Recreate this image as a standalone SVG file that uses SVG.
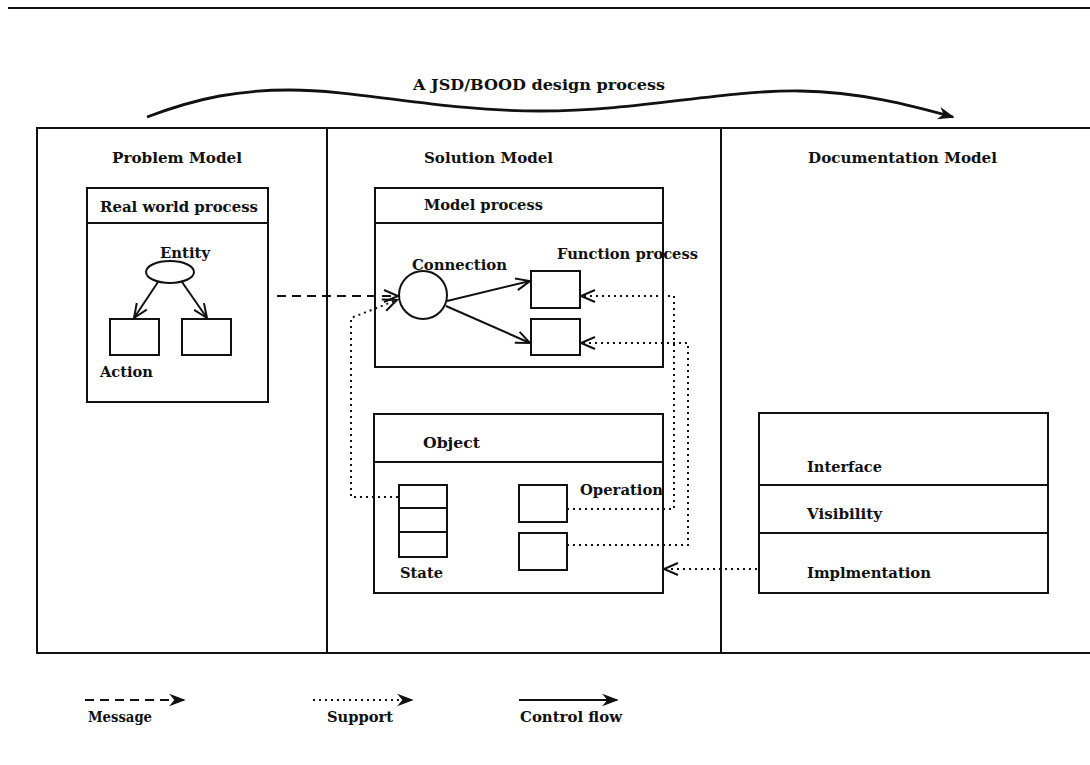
<svg xmlns="http://www.w3.org/2000/svg" width="1090" height="765" viewBox="0 0 1090 765">
<style>
text{font-family:"DejaVu Serif","Liberation Serif",serif;font-size:14px;font-weight:bold;fill:#111;}
.box{fill:none;stroke:#111;stroke-width:2;}
.frame{fill:none;stroke:#111;stroke-width:2;}
.solid{fill:none;stroke:#111;stroke-width:2;}
.arc{fill:none;stroke:#111;stroke-width:2.8;}
.dash{fill:none;stroke:#111;stroke-width:2.2;stroke-dasharray:9,6;}
.dot{fill:none;stroke:#111;stroke-width:2;stroke-dasharray:2,4;}
</style>
<defs>
<marker id="ah" markerUnits="userSpaceOnUse" markerWidth="20" markerHeight="16" refX="14" refY="6" orient="auto" overflow="visible">
<path d="M1,1 L14,6 L1,11 L5,6 Z" fill="#111" stroke="#111" stroke-width="1.2" stroke-dasharray="none" stroke-linejoin="miter"/>
</marker>
<marker id="ao" markerUnits="userSpaceOnUse" markerWidth="20" markerHeight="16" refX="14" refY="6" orient="auto" overflow="visible">
<path d="M0,0 L14,6 L0,12" fill="none" stroke="#111" stroke-width="2" stroke-dasharray="none"/>
</marker>
</defs>
<rect width="1090" height="765" fill="#fff"/>

<g id="frame">
<line x1="8" y1="8" x2="1090" y2="8" stroke="#111" stroke-width="2"/>
<path class="frame" d="M1090,128 H37 V653 H1090"/>
<line x1="327" y1="128" x2="327" y2="653" stroke="#111" stroke-width="2"/>
<line x1="721" y1="128" x2="721" y2="653" stroke="#111" stroke-width="2"/>
</g>

<g id="process-arc">
<path class="arc" d="M147,117 C200,97 240,90 290,90 C360,90 440,111 540,111 C640,111 720,90 800,91 C860,92 910,105 953,117" marker-end="url(#ah)"/>
<text x="413" y="90" textLength="252" lengthAdjust="spacingAndGlyphs">A JSD/BOOD design process</text>
</g>

<g id="titles">
<text x="112" y="163" textLength="130" lengthAdjust="spacingAndGlyphs">Problem Model</text>
<text x="424" y="163" textLength="129" lengthAdjust="spacingAndGlyphs">Solution Model</text>
<text x="808" y="163" textLength="189" lengthAdjust="spacingAndGlyphs">Documentation Model</text>
</g>

<g id="real-world-process">
<rect class="box" x="87" y="188" width="181" height="214"/>
<line x1="87" y1="223" x2="268" y2="223" stroke="#111" stroke-width="2"/>
<text x="100" y="212" textLength="158" lengthAdjust="spacingAndGlyphs">Real world process</text>
</g>
<g id="entity">
<ellipse class="box" cx="170" cy="272" rx="24" ry="11"/>
<text x="160" y="258" textLength="50" lengthAdjust="spacingAndGlyphs">Entity</text>
</g>
<g id="action1"><rect class="box" x="110" y="319" width="49" height="36"/></g>
<g id="action2"><rect class="box" x="182" y="319" width="49" height="36"/></g>
<text x="100" y="377" textLength="53" lengthAdjust="spacingAndGlyphs">Action</text>

<g id="model-process">
<rect class="box" x="375" y="188" width="288" height="179"/>
<line x1="375" y1="223" x2="663" y2="223" stroke="#111" stroke-width="2"/>
<text x="424" y="210" textLength="119" lengthAdjust="spacingAndGlyphs">Model process</text>
</g>
<g id="connection">
<circle class="box" cx="423" cy="295" r="24"/>
<text x="412" y="270" textLength="95" lengthAdjust="spacingAndGlyphs">Connection</text>
</g>
<g id="function1"><rect class="box" x="531" y="271" width="49" height="37"/></g>
<g id="function2"><rect class="box" x="531" y="319" width="49" height="36"/></g>
<text x="557" y="259" textLength="141" lengthAdjust="spacingAndGlyphs">Function process</text>

<g id="object">
<rect class="box" x="374" y="414" width="289" height="179"/>
<line x1="374" y1="462" x2="663" y2="462" stroke="#111" stroke-width="2"/>
<text x="423" y="448" textLength="57" lengthAdjust="spacingAndGlyphs">Object</text>
</g>
<g id="state">
<rect class="box" x="399" y="485" width="48" height="72"/>
<line x1="399" y1="508" x2="447" y2="508" stroke="#111" stroke-width="2"/>
<line x1="399" y1="532" x2="447" y2="532" stroke="#111" stroke-width="2"/>
<text x="400" y="578" textLength="43" lengthAdjust="spacingAndGlyphs">State</text>
</g>
<g id="operation1"><rect class="box" x="519" y="485" width="48" height="37"/></g>
<g id="operation2"><rect class="box" x="519" y="533" width="48" height="37"/></g>
<text x="580" y="495" textLength="83" lengthAdjust="spacingAndGlyphs">Operation</text>

<g id="documentation">
<rect class="box" x="759" y="413" width="289" height="180"/>
<line x1="759" y1="485" x2="1048" y2="485" stroke="#111" stroke-width="2"/>
<line x1="759" y1="533" x2="1048" y2="533" stroke="#111" stroke-width="2"/>
<text x="807" y="472" textLength="75" lengthAdjust="spacingAndGlyphs">Interface</text>
<text x="807" y="519" textLength="75" lengthAdjust="spacingAndGlyphs">Visibility</text>
<text x="807" y="578" textLength="124" lengthAdjust="spacingAndGlyphs">Implmentation</text>
</g>

<g id="connectors">
<line class="solid" x1="158" y1="282" x2="134" y2="318" marker-end="url(#ao)"/>
<line class="solid" x1="182" y1="282" x2="207" y2="318" marker-end="url(#ao)"/>
<line class="solid" x1="447" y1="301" x2="530" y2="281" marker-end="url(#ao)"/>
<line class="solid" x1="446" y1="306" x2="530" y2="343" marker-end="url(#ao)"/>
<line class="dash" x1="277" y1="296" x2="398" y2="296" marker-end="url(#ao)"/>
<path class="dot" d="M398,497 H351 V318 L397,300" marker-end="url(#ao)"/>
<path class="dot" d="M567,509 H674 V296 H581" marker-end="url(#ao)"/>
<path class="dot" d="M567,545 H688 V343 H581" marker-end="url(#ao)"/>
<path class="dot" d="M757,569 H664" marker-end="url(#ao)"/>
</g>

<g id="legend">
<line class="dash" x1="85" y1="700" x2="184" y2="700" marker-end="url(#ah)"/>
<text x="88" y="722" textLength="64" lengthAdjust="spacingAndGlyphs">Message</text>
<line class="dot" x1="313" y1="700" x2="412" y2="700" marker-end="url(#ah)"/>
<text x="327" y="722" textLength="66" lengthAdjust="spacingAndGlyphs">Support</text>
<line class="solid" x1="519" y1="700" x2="617" y2="700" marker-end="url(#ah)"/>
<text x="520" y="722" textLength="102" lengthAdjust="spacingAndGlyphs">Control flow</text>
</g>
</svg>
